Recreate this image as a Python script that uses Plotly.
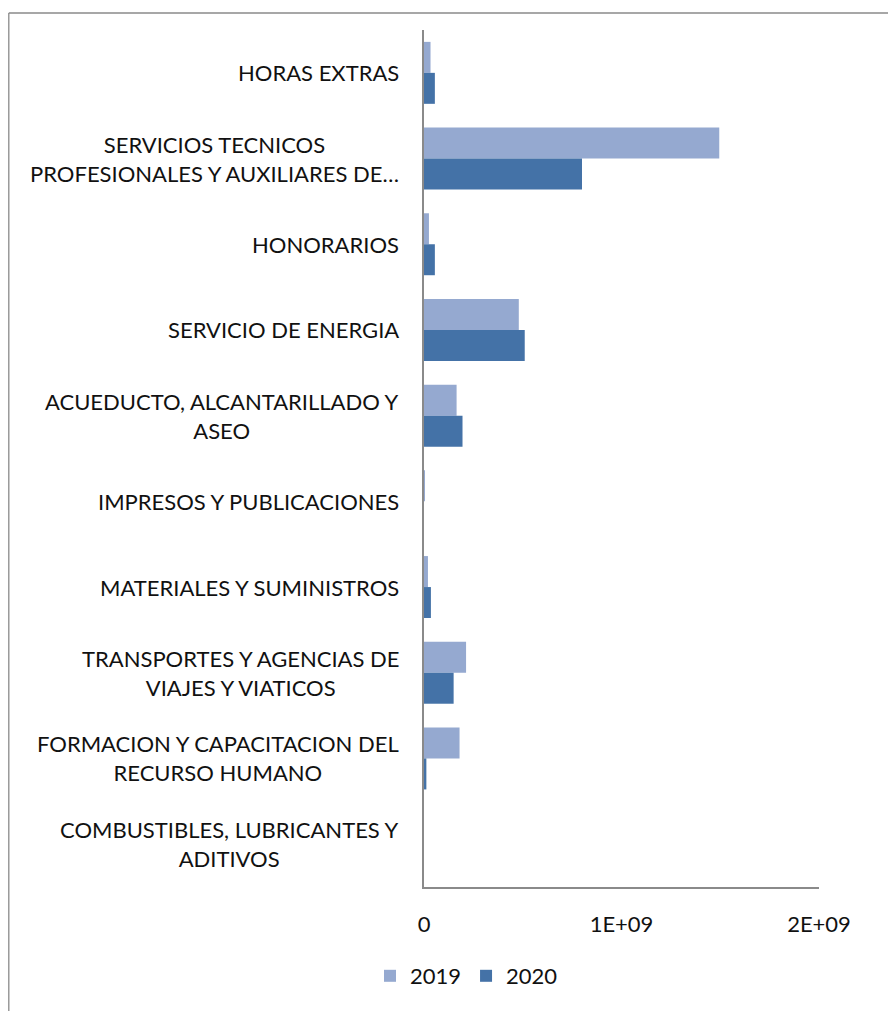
import plotly.graph_objects as go

categories = [
    "HORAS EXTRAS",
    "SERVICIOS TECNICOS<br>PROFESIONALES Y AUXILIARES DE…",
    "HONORARIOS",
    "SERVICIO DE ENERGIA",
    "ACUEDUCTO, ALCANTARILLADO Y<br>ASEO",
    "IMPRESOS Y PUBLICACIONES",
    "MATERIALES Y SUMINISTROS",
    "TRANSPORTES Y AGENCIAS DE<br>VIAJES Y VIATICOS",
    "FORMACION Y CAPACITACION DEL<br>RECURSO HUMANO",
    "COMBUSTIBLES, LUBRICANTES Y<br>ADITIVOS",
]
values_2019 = [33e6, 1495e6, 25e6, 480e6, 165e6, 3e6, 20e6, 213e6, 180e6, 0]
values_2020 = [55e6, 800e6, 55e6, 510e6, 195e6, 0, 35e6, 150e6, 12e6, 0]
x_tickvals = [0, 1e9, 2e9]
x_ticktext = ["0", "1E+09", "2E+09"]

OFF = 8  # page body margin
W, H = 896 - OFF, 1011 - OFF
L, T = 424 - OFF, 30 - OFF
R = W - (819 - OFF)
B = H - (887 - OFF)
pw, ph = W - L - R, H - T - B

def px_x(p):
    return (p - OFF - L) / pw

def px_y(p):
    return (H - B - (p - OFF)) / ph

FONT = "Lato"
FS = 22

fig = go.Figure()
fig.add_trace(go.Bar(y=categories, x=values_2019, name="2019", orientation="h",
                     marker=dict(color="#95A9D0", line=dict(width=0))))
fig.add_trace(go.Bar(y=categories, x=values_2020, name="2020", orientation="h",
                     marker=dict(color="#4472A7", line=dict(width=0))))

for c in categories:
    fig.add_annotation(x=px_x(401), xref="paper", y=c, yref="y", text=c,
                       showarrow=False, xanchor="right", yanchor="middle",
                       align="center", font=dict(family=FONT, size=FS, color="#111"))

# outer chart frame (partially visible)
fig.add_shape(type="line", xref="paper", yref="paper", x0=px_x(8.8), x1=px_x(8.8),
              y0=px_y(13), y1=px_y(1020), line=dict(color="#8a8a8a", width=1.3))
fig.add_shape(type="line", xref="paper", yref="paper", x0=px_x(8.8), x1=px_x(905),
              y0=px_y(13), y1=px_y(13), line=dict(color="#8a8a8a", width=1.3))

fig.update_layout(
    width=W, height=H,
    margin=dict(l=L, r=R, t=T, b=B, pad=0),
    paper_bgcolor="white", plot_bgcolor="white",
    barmode="group", bargap=0.277, bargroupgap=0,
    font=dict(family=FONT, size=FS, color="#111"),
    showlegend=True,
    legend=dict(orientation="h", x=px_x(370), xanchor="left", y=px_y(976),
                yanchor="middle", font=dict(family=FONT, size=FS, color="#111"),
                traceorder="normal", itemwidth=30),
    xaxis=dict(range=[0, 2e9], tickvals=x_tickvals, ticktext=x_ticktext,
               showgrid=False, zeroline=False, showline=True, linecolor="#8a8a8a",
               linewidth=1.5, ticks="", ticklabelstandoff=17,
               tickfont=dict(family=FONT, size=FS, color="#111")),
    yaxis=dict(autorange="reversed", showticklabels=False, showgrid=False,
               zeroline=False, showline=True, linecolor="#8a8a8a", linewidth=1.5,
               ticks=""),
)

fig.write_html("out.html")
